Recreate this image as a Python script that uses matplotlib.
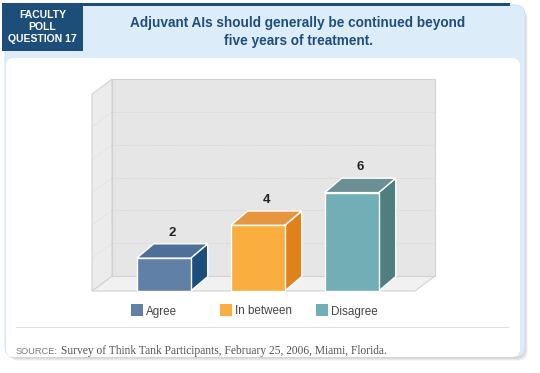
import matplotlib
matplotlib.use('Agg')
from matplotlib import pyplot as plt
from matplotlib.patches import Polygon, Rectangle, FancyBboxPatch

# data
categories = ['Agree', 'In between', 'Disagree']
values = [2, 4, 6]
y_max = 12
grid_values = [2, 4, 6, 8, 10]
front_colors = ['#6180a8', '#f9ae3f', '#72aeb5']
top_colors = ['#4d6f98', '#e5963f', '#6a8f95']
side_colors = ['#1b4e7d', '#e0821b', '#4f7e81']

header_text = 'FACULTY\nPOLL\nQUESTION 17'
title_text = 'Adjuvant AIs should generally be continued beyond\nfive years of treatment.'
source_label = 'SOURCE:'
source_text = 'Survey of Think Tank Participants, February 25, 2006, Miami, Florida.'

W, H = 540, 373
fig = plt.figure(figsize=(W / 100, H / 100), dpi=100)
fig.patch.set_facecolor('white')

# background / card drawing in pixel coordinates
bg = fig.add_axes([0, 0, 1, 1])
bg.set_xlim(0, W)
bg.set_ylim(H, 0)
bg.axis('off')

# soft shadow
for i, a in enumerate([0.05, 0.05, 0.05, 0.04]):
    bg.add_patch(FancyBboxPatch((6 + i, 7 + i), 519, 351, boxstyle='round,pad=0,rounding_size=10',
                                fc='#000000', ec='none', alpha=a, zorder=1))
# card (light blue)
bg.add_patch(FancyBboxPatch((5, 5), 520, 352, boxstyle='round,pad=0,rounding_size=10',
                            fc='#dcedf9', ec='#c9dff0', lw=0.6, zorder=2))
# white panel
bg.add_patch(FancyBboxPatch((6, 58), 514, 299, boxstyle='round,pad=0,rounding_size=8',
                            fc='white', ec='none', zorder=3))
# dark top line and header box
bg.add_patch(Rectangle((82, 3), 428, 2.5, fc='#1d4e7a', ec='none', zorder=4))
bg.add_patch(Rectangle((2, 3), 81, 48, fc='#1d4e7a', ec='none', zorder=4))
bg.text(42.5, 27.5, header_text, color='white', fontsize=7.5, fontweight='bold',
        family=['Liberation Sans Narrow', 'Liberation Sans'], ha='center', va='center',
        linespacing=1.25, zorder=5)
bg.text(298, 32, title_text, color='#1f4e7e', fontsize=9.8, fontweight='bold',
        family=['Liberation Sans Narrow', 'Liberation Sans'], ha='center', va='center',
        linespacing=1.35, zorder=5)

# legend
leg_x = [131, 220, 316]
for lx, lab, col in zip(leg_x, categories, front_colors):
    bg.add_patch(Rectangle((lx, 304), 12, 12, fc=col, ec='none', zorder=5))
    bg.text(lx + 15, 314.5, lab, color='#444444', fontsize=8.4, family='Liberation Sans',
            ha='left', va='baseline', zorder=5)

# separator and source
bg.plot([16, 508], [327, 327], color='#e2e2e2', lw=0.8, zorder=5)
bg.text(16, 354, source_label, color='#7a7a7a', fontsize=6.7, family='Liberation Sans',
        ha='left', va='baseline', zorder=5)
bg.text(61, 354, source_text, color='#555555', fontsize=8.3, family='Liberation Serif',
        ha='left', va='baseline', zorder=5)

# chart axes: pixel window 85..440 x, 70..300 y
px_per_x, px_per_y = 94.0, 16.4
x0_px, y0_px = 163.7, 291.0
ax_l, ax_r, ax_t, ax_b = 85, 440, 70, 300
ax = fig.add_axes([ax_l / W, (H - ax_b) / H, (ax_r - ax_l) / W, (ax_b - ax_t) / H])
ax.set_xlim((ax_l - x0_px) / px_per_x, (ax_r - x0_px) / px_per_x)
ax.set_ylim((y0_px - ax_b) / px_per_y, (y0_px - ax_t) / px_per_y)
ax.axis('off')
ax.patch.set_alpha(0)

xs = list(range(len(categories)))
x_left = (92 - x0_px) / px_per_x
x_right = (415 - x0_px) / px_per_x
wdx, wdy = 20 / px_per_x, 15 / px_per_y      # wall depth
bdx, bdy = 17 / px_per_x, 14.4 / px_per_y    # bar depth
hw = 27 / px_per_x

wall_ec = '#d2d2d2'
# floor
ax.add_patch(Polygon([(x_left, 0), (x_right, 0), (x_right + wdx, wdy), (x_left + wdx, wdy)],
                     fc='#f1f1f1', ec=wall_ec, lw=0.8, zorder=1))
# side wall
ax.add_patch(Polygon([(x_left, 0), (x_left + wdx, wdy), (x_left + wdx, y_max + wdy), (x_left, y_max)],
                     fc='#ececec', ec=wall_ec, lw=0.8, zorder=1))
# back wall
ax.add_patch(Rectangle((x_left + wdx, wdy), x_right - x_left, y_max, fc='#e6e6e6',
                       ec=wall_ec, lw=0.8, zorder=1))
for g in grid_values:
    ax.plot([x_left + wdx, x_right + wdx], [g + wdy, g + wdy], color='#cdcdcd', lw=0.6,
            ls=(0, (1, 1.5)), zorder=2)
    ax.plot([x_left, x_left + wdx], [g, g + wdy], color='#d6d6d6', lw=0.6,
            ls=(0, (1, 1.5)), zorder=2)

# bars
for x, v, fc, tc, sc in zip(xs, values, front_colors, top_colors, side_colors):
    ax.add_patch(Polygon([(x + hw, 0), (x + hw + bdx, bdy), (x + hw + bdx, v + bdy), (x + hw, v)],
                         fc=sc, ec='white', lw=1, zorder=3))
    ax.add_patch(Polygon([(x - hw, v), (x + hw, v), (x + hw + bdx, v + bdy), (x - hw + bdx, v + bdy)],
                         fc=tc, ec='white', lw=1, zorder=3))
    ax.add_patch(Rectangle((x - hw, 0), 2 * hw, v, fc=fc, ec='white', lw=1, zorder=4))
    ax.text(x + bdx / 2, v + bdy + 0.3, str(v), ha='center', va='bottom', fontsize=9.5,
            fontweight='bold', color='#222222', family='Liberation Sans', zorder=5)

fig.savefig('out.png', dpi=100)
